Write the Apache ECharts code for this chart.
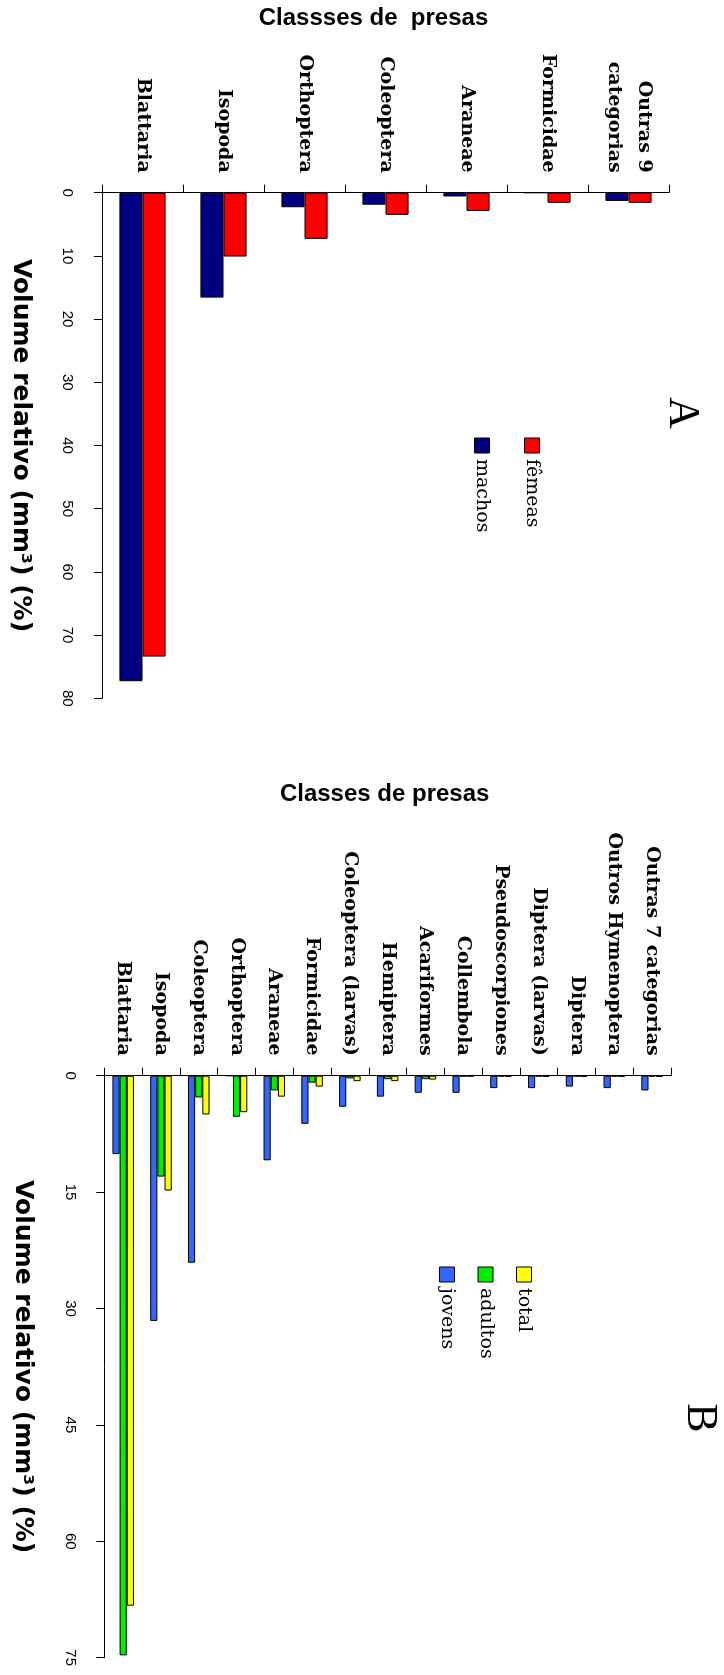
<!DOCTYPE html>
<html>
<head>
<meta charset="utf-8">
<script src="https://cdn.jsdelivr.net/npm/echarts@6/dist/echarts.min.js"></script>
<style>
  html, body { margin: 0; padding: 0; background: #fff; }
  #chart { width: 724px; height: 1675px; }
</style>
</head>
<body>
<div id="chart"></div>
<script>
// Panel A: relative prey volume by sex
const categoriesA = ['Blattaria', 'Isopoda', 'Orthoptera', 'Coleoptera', 'Araneae', 'Formicidae', 'Outras 9\ncategorias'];
const machosA = [77.3, 16.6, 2.3, 1.9, 0.6, 0, 1.3];
const femeasA = [73.4, 10.1, 7.3, 3.5, 2.9, 1.6, 1.6];
const ticksA = [0, 10, 20, 30, 40, 50, 60, 70, 80];

// Panel B: relative prey volume by age class
const categoriesB = ['Blattaria', 'Isopoda', 'Coleoptera', 'Orthoptera', 'Araneae', 'Formicidae',
  'Coleoptera (larvas)', 'Hemiptera', 'Acariformes', 'Collembola', 'Pseudoscorpiones',
  'Diptera (larvas)', 'Diptera', 'Outros Hymenoptera', 'Outras 7 categorias'];
const jovensB  = [10.1, 31.6, 24.1, 0,   10.9, 6.2, 4.0,  2.7,  2.2,  2.2, 1.6,  1.6,  1.4,  1.6,  1.9];
const adultosB = [74.7, 13.0, 2.8,  5.3, 1.9,  0.9, 0.35, 0.45, 0.45, 0.1, 0.1,  0.1,  0.1,  0.1,  0.1];
const totalB   = [68.3, 14.8, 5.0,  4.7, 2.7,  1.4, 0.7,  0.7,  0.5,  0.1, 0.15, 0.15, 0.15, 0.15, 0.15];
const ticksB = [0, 15, 30, 45, 60, 75];

const valueName = 'Volume relativo (mm³) (%)';

const colors = {
  machos: '#000080', femeas: '#FF0000',
  jovens: '#3366FF', adultos: '#00EE00', total: '#FFFF00'
};

function categoryAxis(gridIndex, data, name, nameGap, namePadding) {
  return {
    type: 'category', gridIndex: gridIndex, data: data, position: 'top',
    axisLine: { lineStyle: { color: '#000', width: 1 } },
    axisTick: { show: true, length: 8, lineStyle: { color: '#000' } },
    axisLabel: {
      interval: 0, rotate: -90, margin: 20, color: '#000',
      fontFamily: 'DejaVu Serif', fontWeight: 'bold', fontSize: 19, lineHeight: 30
    },
    name: name, nameLocation: 'middle', nameGap: nameGap,
    nameTextStyle: {
      fontFamily: 'Liberation Sans', fontWeight: 'bold', fontSize: 24, color: '#000',
      padding: namePadding
    }
  };
}

function valueAxis(gridIndex, ticks) {
  return {
    type: 'value', gridIndex: gridIndex, inverse: true,
    min: ticks[0], max: ticks[ticks.length - 1], interval: ticks[1] - ticks[0],
    axisLine: { show: true, lineStyle: { color: '#000', width: 1 } },
    axisTick: { show: true, length: 8, lineStyle: { color: '#000' } },
    splitLine: { show: false },
    axisLabel: { rotate: -90, margin: 27, color: '#000', fontFamily: 'Liberation Sans', fontSize: 15 },
    name: valueName, nameLocation: 'middle', nameRotate: -90, nameGap: 69,
    nameTextStyle: { fontFamily: 'DejaVu Sans', fontWeight: 'bold', fontSize: 25, color: '#000' }
  };
}

function barSeries(name, data, color, axisIndex) {
  return {
    type: 'bar', name: name, data: data,
    xAxisIndex: axisIndex, yAxisIndex: axisIndex,
    barGap: '0%', barCategoryGap: '43%',
    itemStyle: { color: color, borderColor: '#000', borderWidth: 1 },
    emphasis: { disabled: true }
  };
}

// Vertical legend entries: square swatch with the name running downward beneath it
function legendItems(names, fills, cx0, step, top) {
  const els = [];
  names.forEach(function (name, i) {
    const cx = cx0 + step * i;
    els.push({
      type: 'rect', shape: { x: cx - 7.5, y: top, width: 15, height: 15 },
      style: { fill: fills[i], stroke: '#000', lineWidth: 1 }
    });
    els.push({
      type: 'text', x: cx, y: top + 21, rotation: -Math.PI / 2,
      style: {
        text: name, font: '19px "DejaVu Serif"', fill: '#000',
        align: 'left', verticalAlign: 'middle', textAlign: 'left', textVerticalAlign: 'middle'
      }
    });
  });
  return els;
}

function panelLetter(letter, x, y) {
  return {
    type: 'text', x: x, y: y, rotation: -Math.PI / 2,
    style: {
      text: letter, font: '44px "Liberation Serif"', fill: '#000',
      align: 'center', verticalAlign: 'middle', textAlign: 'center', textVerticalAlign: 'middle'
    }
  };
}

const chart = echarts.init(document.getElementById('chart'));
chart.setOption({
  animation: false,
  backgroundColor: '#fff',
  grid: [
    { left: 101.7, top: 192.7, width: 567.3, height: 505.6, containLabel: false },
    { left: 104.3, top: 1075.7, width: 566.7, height: 582, containLabel: false }
  ],
  xAxis: [
    categoryAxis(0, categoriesA, 'Classses de  presas', 162, [0, 24, 0, 0]),
    categoryAxis(1, categoriesB, 'Classes de presas', 269, [0, 6, 0, 0])
  ],
  yAxis: [valueAxis(0, ticksA), valueAxis(1, ticksB)],
  series: [
    barSeries('machos', machosA, colors.machos, 0),
    barSeries('fêmeas', femeasA, colors.femeas, 0),
    barSeries('jovens', jovensB, colors.jovens, 1),
    barSeries('adultos', adultosB, colors.adultos, 1),
    barSeries('total', totalB, colors.total, 1)
  ],
  graphic: [
    panelLetter('A', 682, 413),
    panelLetter('B', 700, 1418)
  ].concat(
    legendItems(['fêmeas', 'machos'], [colors.femeas, colors.machos], 532, -50, 438),
    legendItems(['total', 'adultos', 'jovens'], [colors.total, colors.adultos, colors.jovens], 524, -38.5, 1267)
  )
});
</script>
</body>
</html>
